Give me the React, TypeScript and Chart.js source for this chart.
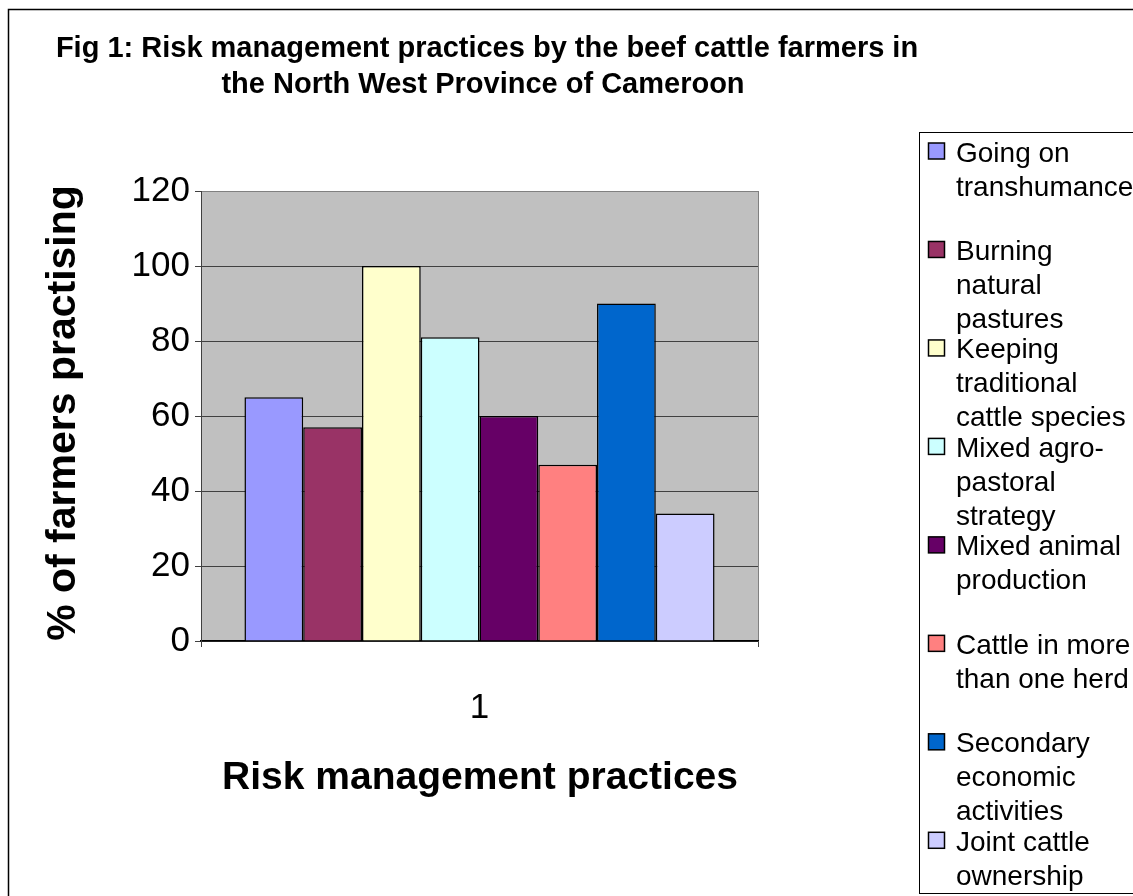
import React, { useEffect, useRef } from 'react';
import { Chart, registerables } from 'chart.js';

Chart.register(...registerables);

const FONT = "'Liberation Sans', Arial, Helvetica, sans-serif";

const categories = ['1'];
const seriesNames = [
  'Going on transhumance',
  'Burning natural pastures',
  'Keeping traditional cattle species',
  'Mixed agro-pastoral strategy',
  'Mixed animal production',
  'Cattle in more than one herd',
  'Secondary economic activities',
  'Joint cattle ownership',
];
const seriesValues = [65, 57, 100, 81, 60, 47, 90, 34];
const seriesColors = ['#9999FF', '#993366', '#FFFFCC', '#CCFFFF', '#660066', '#FF8080', '#0066CC', '#CCCCFF'];
const legendLines = [
  ['Going on', 'transhumance'],
  ['Burning', 'natural', 'pastures'],
  ['Keeping', 'traditional', 'cattle species'],
  ['Mixed agro-', 'pastoral', 'strategy'],
  ['Mixed animal', 'production'],
  ['Cattle in more', 'than one herd'],
  ['Secondary', 'economic', 'activities'],
  ['Joint cattle', 'ownership'],
];
const titleLines = [
  'Fig 1: Risk management practices by the beef cattle farmers in',
  'the North West Province of Cameroon',
];
const xTitle = 'Risk management practices';
const yTitle = '% of farmers practising';
const yMin = 0;
const yMax = 120;
const yStep = 20;

const decor = {
  id: 'decor',
  beforeDraw(chart: any) {
    const { ctx, chartArea: a } = chart;
    ctx.save();
    ctx.fillStyle = '#ffffff';
    ctx.fillRect(0, 0, chart.width, chart.height);
    ctx.fillStyle = '#C0C0C0';
    ctx.fillRect(a.left, a.top, a.right - a.left, a.bottom - a.top);
    ctx.restore();
  },
  afterDraw(chart: any) {
    const { ctx } = chart;
    ctx.save();
    // outer frame
    ctx.strokeStyle = '#000';
    ctx.lineWidth = 1.5;
    ctx.strokeRect(8.5, 9.5, 1200, 1000);

    // title
    ctx.fillStyle = '#000';
    ctx.textAlign = 'center';
    ctx.textBaseline = 'alphabetic';
    ctx.font = `bold 29px ${FONT}`;
    ctx.fillText(titleLines[0], 487, 57);
    ctx.fillText(titleLines[1], 483, 93);

    // x title
    ctx.font = `bold 39px ${FONT}`;
    ctx.fillText(xTitle, 480, 789);

    // y title
    ctx.save();
    ctx.translate(64, 413);
    ctx.rotate(-Math.PI / 2);
    ctx.font = `bold 41px ${FONT}`;
    ctx.textBaseline = 'middle';
    ctx.fillText(yTitle, 0, 0);
    ctx.restore();

    // legend
    ctx.strokeStyle = '#000';
    ctx.lineWidth = 1;
    ctx.strokeRect(919.5, 132.5, 300, 761);
    ctx.textAlign = 'left';
    ctx.textBaseline = 'alphabetic';
    ctx.font = `28px ${FONT}`;
    const first = 161.5;
    const step = 98.47;
    legendLines.forEach((lines, i) => {
      const b = first + i * step;
      ctx.fillStyle = seriesColors[i];
      ctx.fillRect(928.5, b - 18.5, 16, 16);
      ctx.strokeStyle = '#000';
      ctx.lineWidth = 1.5;
      ctx.strokeRect(928.5, b - 18.5, 16, 16);
      ctx.fillStyle = '#000';
      lines.forEach((t, j) => ctx.fillText(t, 956, b + j * 34));
    });
    ctx.restore();
  },
};

export default function App() {
  const ref = useRef<HTMLCanvasElement>(null);
  useEffect(() => {
    document.body.style.margin = '0';
    const canvas = ref.current!;
    const chart = new Chart(canvas, {
      type: 'bar',
      data: {
        labels: categories,
        datasets: seriesNames.map((name, i) => ({
          label: name,
          data: [seriesValues[i]],
          backgroundColor: seriesColors[i],
          borderColor: '#000',
          borderWidth: 1.5,
          barPercentage: 1,
          categoryPercentage: 0.844,
        })),
      },
      options: {
        responsive: false,
        animation: false,
        devicePixelRatio: 1,
        layout: { padding: { left: 0, top: 191, right: 375, bottom: 0 } },
        plugins: {
          legend: { display: false },
          tooltip: { enabled: false },
          title: { display: false },
        },
        scales: {
          x: {
            afterFit: (s: any) => { s.height = 255; },
            grid: { offset: true, color: '#808080', tickColor: '#404040', tickLength: 6, lineWidth: 1 },
            border: { color: '#000', width: 1.5 },
            ticks: { color: '#000', font: { family: FONT, size: 35 }, padding: 40 },
          },
          y: {
            min: yMin,
            max: yMax,
            afterFit: (s: any) => { s.width = 201; },
            grid: {
              color: (c: any) => (c.tick && c.tick.value === yMax ? '#808080' : '#404040'),
              tickColor: '#404040',
              tickLength: 6,
              lineWidth: 1,
            },
            border: { color: '#404040', width: 1 },
            ticks: { stepSize: yStep, color: '#000', font: { family: FONT, size: 35 }, padding: 5 },
          },
        },
      },
      plugins: [decor],
    });
    return () => chart.destroy();
  }, []);
  return <canvas ref={ref} width={1133} height={896} style={{ display: 'block' }} />;
}
